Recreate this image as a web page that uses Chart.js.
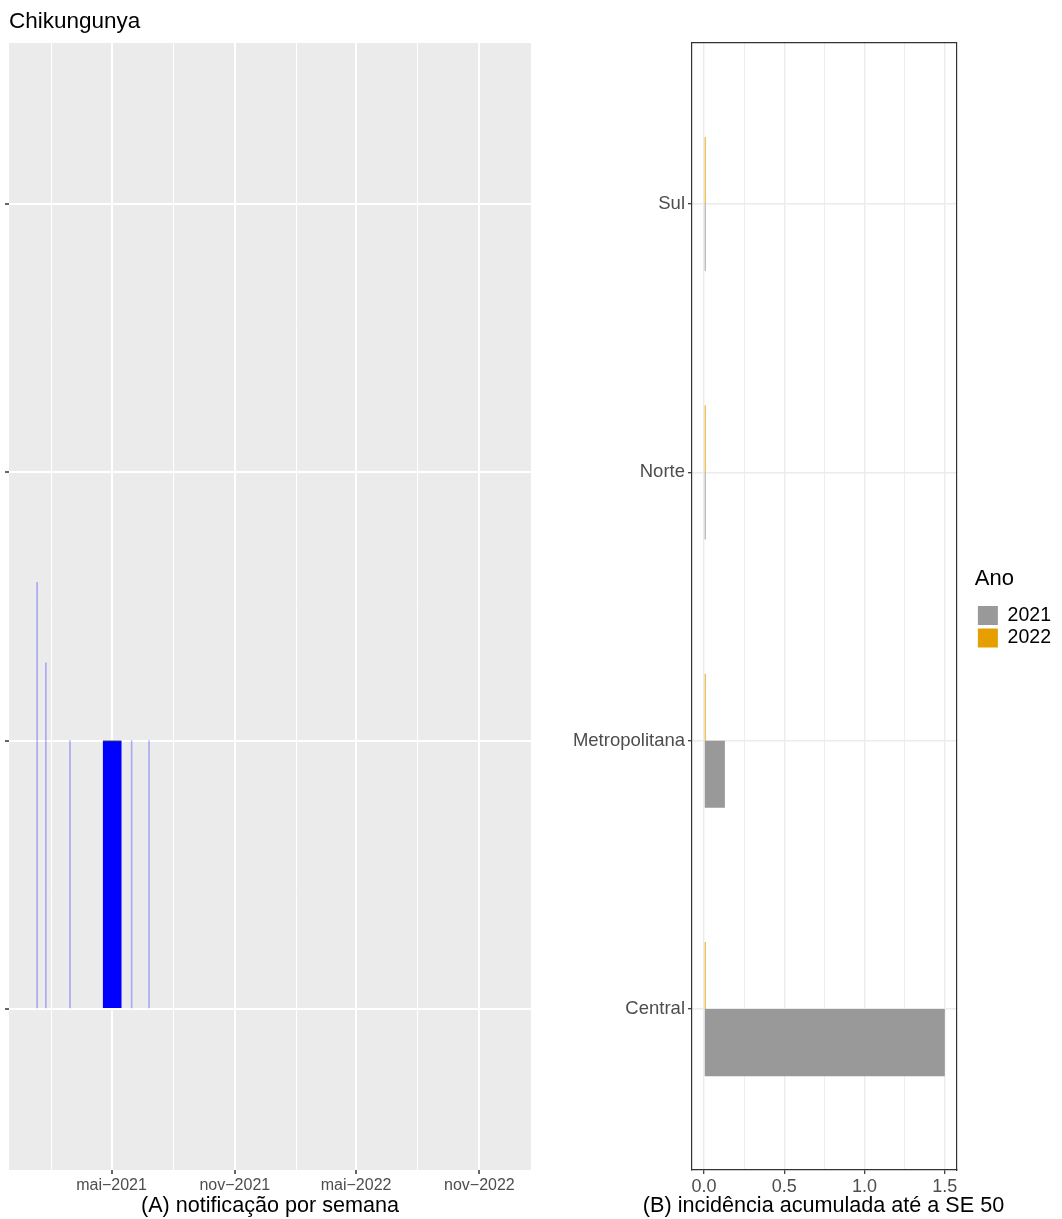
<!DOCTYPE html>
<html>
<head>
<meta charset="utf-8">
<script src="https://cdn.jsdelivr.net/npm/chart.js@4"></script>
<style>
  body { margin: 0; background: #fff; }
  #wrap { position: relative; width: 1062px; height: 1219px; }
  #left { position: absolute; left: 0; top: 0; width: 545px; height: 1219px; }
  #right { position: absolute; left: 545px; top: 0; width: 517px; height: 1219px; }
</style>
</head>
<body>
<div id="wrap">
  <div id="left"><canvas id="weekly"></canvas></div>
  <div id="right"><canvas id="cumul"></canvas></div>
</div>
<script>
Chart.defaults.font.family = '"Liberation Sans", Arial, sans-serif';
Chart.defaults.animation = false;

// (A) notificacoes por semana
var weekDates = ['2021-01-10', '2021-01-23', '2021-02-28', '2021-05-31', '2021-06-26'];
var weekValues = [1.59, 1.29, 1, 1, 1];
var blockDates = ['2021-05-02'];
var blockValues = [1];
var blockSpanDays = 28;
var monthTicks = ['2021-02-01', '2021-05-01', '2021-08-01', '2021-11-01', '2022-02-01', '2022-05-01', '2022-08-01', '2022-11-01'];
var monthLabels = ['', 'mai\u22122021', '', 'nov\u22122021', '', 'mai\u22122022', '', 'nov\u22122022'];

// (B) incidencia acumulada
var regions = ['Sul', 'Norte', 'Metropolitana', 'Central'];
var years = ['2021', '2022'];
var inc2021 = [0.01, 0.01, 0.13, 1.5];
var inc2022 = [0.01, 0.01, 0.01, 0.01];
var incTicks = [0, 0.25, 0.5, 0.75, 1, 1.25, 1.5];

function day(s) { return Date.parse(s + 'T00:00:00Z') / 86400000; }
function rowOf(i) { return regions.length - 1 - i; }

var panelBg = {
  id: 'panelBg',
  beforeDraw: function(chart) {
    var a = chart.chartArea, c = chart.ctx;
    c.save();
    c.fillStyle = '#EBEBEB';
    c.fillRect(a.left, a.top, a.right - a.left, a.bottom - a.top);
    c.restore();
  }
};

new Chart(document.getElementById('weekly'), {
  type: 'bar',
  data: {
    datasets: [{
      data: blockDates.map(function(d, i) { return { x: day(d), y: blockValues[i] }; }),
      backgroundColor: '#0000FF',
      borderColor: '#555',
      borderWidth: { top: 1, left: 0, right: 0, bottom: 0 },
      borderSkipped: false,
      barThickness: function(c) {
        var x = c.chart.scales.x;
        if (!x || !x.width) return 1;
        return x.getPixelForValue(x.min + blockSpanDays) - x.getPixelForValue(x.min);
      }
    }, {
      data: weekDates.map(function(d, i) { return { x: day(d), y: weekValues[i] }; }),
      backgroundColor: 'rgba(0,0,255,0.28)',
      barThickness: 1
    }]
  },
  options: {
    responsive: true,
    maintainAspectRatio: false,
    datasets: { bar: { grouped: false } },
    layout: { padding: { left: 9, right: 14, top: 0, bottom: 0 } },
    plugins: {
      legend: { display: false },
      tooltip: { enabled: false },
      title: {
        display: true, text: 'Chikungunya', align: 'start', color: '#000',
        font: { size: 22.5, weight: 'normal' }, padding: { top: 8, bottom: 8 }
      }
    },
    scales: {
      x: {
        type: 'linear',
        offset: false,
        min: day('2020-11-29'),
        max: day('2023-01-17'),
        afterBuildTicks: function(s) { s.ticks = monthTicks.map(function(d) { return { value: day(d) }; }); },
        ticks: {
          autoSkip: false, maxRotation: 0, color: '#4D4D4D', font: { size: 16 }, padding: 2,
          callback: function(v, i) { return monthLabels[i]; }
        },
        grid: {
          offset: false,
          color: '#fff',
          lineWidth: function(c) { return monthLabels[c.index] ? 2 : 1; },
          tickLength: 4,
          tickColor: function(c) { return monthLabels[c.index] ? '#333' : 'rgba(0,0,0,0)'; },
          tickWidth: 1.5
        },
        border: { display: false },
        title: { display: true, text: '(A) notificação por semana', color: '#000', font: { size: 21.6 }, padding: 0 },
        afterFit: function(s) { s.height = 49; }
      },
      y: {
        type: 'linear',
        min: -0.6,
        max: 3.6,
        afterBuildTicks: function(s) { s.ticks = regions.map(function(r, i) { return { value: i }; }); },
        ticks: { display: false },
        grid: { color: '#fff', lineWidth: 2, tickLength: 4, tickColor: '#333', tickWidth: 1.5 },
        border: { display: false },
        afterFit: function(s) { s.width = 0; }
      }
    }
  },
  plugins: [panelBg]
});

// leave room between panel and legend, and centre the bottom title under the panel
var legendGrow = 19, legendShift = 18, titleShift = 40;
var placeBoxes = {
  id: 'placeBoxes',
  beforeLayout: function(chart) {
    var lg = chart.legend;
    if (lg && !lg._wide) {
      var fit = lg.fit;
      lg.fit = function() { fit.call(this); this.width += legendGrow; };
      lg._wide = true;
    }
  },
  afterLayout: function(chart) {
    if (chart.legend) chart.legend.left += legendShift;
    if (chart.titleBlock) chart.titleBlock.left += titleShift;
  }
};

var frame = { display: true, color: '#333', width: 1.2 };

new Chart(document.getElementById('cumul'), {
  type: 'bar',
  data: {
    datasets: [{
      label: years[1],
      data: inc2022.map(function(v, i) { return { x: v, y: rowOf(i) }; }),
      backgroundColor: '#E69F00'
    }, {
      label: years[0],
      data: inc2021.map(function(v, i) { return { x: v, y: rowOf(i) }; }),
      backgroundColor: '#999999'
    }]
  },
  options: {
    indexAxis: 'y',
    responsive: true,
    maintainAspectRatio: false,
    datasets: { bar: { categoryPercentage: 0.5, barPercentage: 1 } },
    layout: { padding: 0 },
    plugins: {
      tooltip: { enabled: false },
      title: {
        display: true, position: 'bottom', text: '(B) incidência acumulada até a SE 50',
        color: '#000', font: { size: 21.6, weight: 'normal' }, padding: 0
      },
      legend: {
        position: 'right',
        reverse: true,
        title: { display: true, position: 'start', text: 'Ano', color: '#000', font: { size: 22 }, padding: { top: 0, bottom: 8 } },
        labels: { boxWidth: 20, boxHeight: 19, padding: 3, color: '#000', font: { size: 19.5 } }
      }
    },
    scales: {
      x: {
        type: 'linear',
        min: -0.075,
        max: 1.575,
        afterBuildTicks: function(s) { s.ticks = incTicks.map(function(v) { return { value: v }; }); },
        ticks: {
          autoSkip: false, maxRotation: 0, color: '#4D4D4D', font: { size: 18 }, padding: 2,
          callback: function(v, i) { return i % 2 === 0 ? v.toFixed(1) : ''; }
        },
        grid: {
          offset: false,
          color: '#EBEBEB',
          lineWidth: function(c) { return c.index % 2 === 0 ? 1.4 : 0.9; },
          tickLength: 4,
          tickColor: function(c) { return c.index % 2 === 0 ? '#333' : 'rgba(0,0,0,0)'; },
          tickWidth: 1.2
        },
        border: frame,
        afterFit: function(s) { s.height = 23; }
      },
      y: {
        type: 'linear',
        offset: false,
        min: -0.6,
        max: 3.6,
        afterBuildTicks: function(s) { s.ticks = regions.map(function(r, i) { return { value: i }; }); },
        ticks: { color: '#4D4D4D', font: { size: 18.5 }, padding: 3, callback: function(v) { return regions[rowOf(v)]; } },
        grid: { offset: false, color: '#EBEBEB', lineWidth: 1.4, tickLength: 4, tickColor: '#333', tickWidth: 1.2 },
        border: frame,
        afterFit: function(s) { s.width = 147; }
      },
      x2: {
        axis: 'x', type: 'linear', position: 'top',
        grid: { display: false, drawTicks: false }, ticks: { display: false }, border: frame,
        afterFit: function(s) { s.height = 43; }
      },
      y2: {
        axis: 'y', type: 'linear', position: 'right',
        grid: { display: false, drawTicks: false }, ticks: { display: false }, border: frame,
        afterFit: function(s) { s.width = 0; }
      }
    }
  },
  plugins: [placeBoxes]
});
</script>
</body>
</html>
